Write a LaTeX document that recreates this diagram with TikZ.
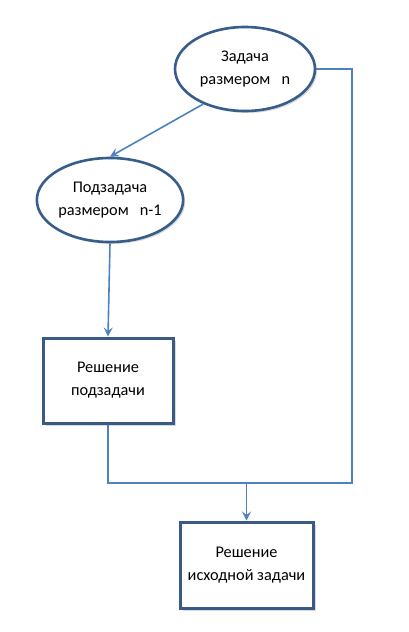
\documentclass[tikz,border=0pt]{standalone}
\usepackage{fontspec}
\setmainfont{Carlito}
\usetikzlibrary{arrows.meta,shapes.geometric,shadows}
\definecolor{linec}{HTML}{4F81BD}
\definecolor{ellc}{HTML}{385D8A}
\definecolor{boxc}{HTML}{3A5A86}
\tikzset{
  conn/.style={draw=linec, line width=1.6pt},
  arr/.style={conn, -{Stealth[length=9pt,width=9pt,inset=3.5pt]}},
  ell/.style={ellipse, draw=ellc, line width=2.6pt, fill=white,
    minimum width=140pt, minimum height=84pt, inner sep=0pt, align=center,
    font=\fontsize{16.3}{23}\selectfont,
    drop shadow={opacity=0.3, shadow xshift=2pt, shadow yshift=-2pt}},
  boxn/.style={rectangle, draw=boxc, line width=3pt, fill=white,
    inner sep=0pt, align=center,
    font=\fontsize{16.3}{23}\selectfont,
    drop shadow={opacity=0.3, shadow xshift=2.5pt, shadow yshift=-2.5pt}}
}
\begin{document}
\begin{tikzpicture}[x=1pt,y=-1pt]
\useasboundingbox (0,0) rectangle (408,632);
\node[ell] (e1) at (245,69) {Задача\\размером\ \ \ n};
\node[ell, minimum width=144pt] (e2) at (110,200) {Подзадача\\размером\ \ \ n-1};
\node[boxn, minimum width=130pt, minimum height=85pt] (r1) at (108,380.5) {Решение\\подзадачи};
\node[boxn, minimum width=133pt, minimum height=86pt] (r2) at (246.5,565) {Решение\\исходной задачи};
\coordinate (jl) at (108,483);
\coordinate (jr) at (352,483);
\coordinate (jm) at (246.5,483);
\coordinate (tr) at (352,69);
\draw[arr] (e1.-140) -- (e2.90);
\draw[arr] (e2.south) -- (r1.north);
\draw[conn] (e1.east) -- (tr) -- (jr) -- (jl) -- (r1.south);
\draw[arr] (jm) -- (r2.north);
\end{tikzpicture}
\end{document}
